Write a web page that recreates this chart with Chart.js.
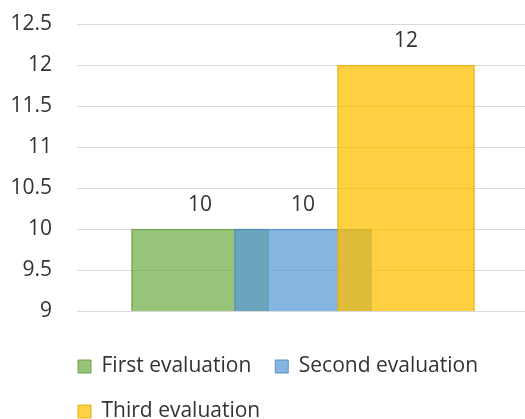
<!DOCTYPE html>
<html>
<head>
<meta charset="utf-8">
<script src="https://cdn.jsdelivr.net/npm/chart.js@4"></script>
<style>
  html, body { margin: 0; padding: 0; background: #fff; }
  #wrap { width: 525px; height: 419px; }
</style>
</head>
<body>
<div id="wrap"><canvas id="c" width="525" height="419"></canvas></div>
<script>
// Series shown as overlapping columns, one column per evaluation
const seriesNames = ['First evaluation', 'Second evaluation', 'Third evaluation'];
const seriesSlots = [1, 2, 3];            // column order along the horizontal axis
const seriesValues = [10, 10, 12];
const yTicks = [9, 9.5, 10, 10.5, 11, 11.5, 12, 12.5];

const fills   = ['rgba(112,173,71,0.72)', 'rgba(91,155,213,0.74)', 'rgba(255,192,0,0.74)'];
const borders = ['rgba(96,150,60,0.85)',  'rgba(70,130,190,0.85)', 'rgba(225,168,0,0.85)'];

const FONT = "'Open Sans', 'Noto Sans', sans-serif";
const TEXT = '#333333';
const FONT_SIZE = 21;

// value labels above each column
const valueLabels = {
  id: 'valueLabels',
  afterDatasetsDraw(chart) {
    const ctx = chart.ctx;
    ctx.save();
    ctx.font = FONT_SIZE + 'px ' + FONT;
    ctx.fillStyle = TEXT;
    ctx.textAlign = 'center';
    ctx.textBaseline = 'middle';
    chart.data.datasets.forEach((ds, i) => {
      const meta = chart.getDatasetMeta(i);
      meta.data.forEach((bar, j) => {
        const v = ds.data[j].y;
        ctx.fillText(String(v), bar.x, bar.y - 24);
      });
    });
    ctx.restore();
  }
};

// legend sits under the plot, starting near the left edge of the plot
const legendPlacement = {
  id: 'legendPlacement',
  afterLayout(chart) {
    const lg = chart.legend;
    if (!lg) return;
    lg.left += 54;
    lg.top += 13;
    lg.bottom += 13;
  }
};

const datasets = seriesNames.map((name, i) => ({
  label: name,
  data: [{ x: seriesSlots[i], y: seriesValues[i] }],
  backgroundColor: fills[i],
  borderColor: borders[i],
  borderWidth: 1,
  barThickness: 137,
  grouped: false,
  order: seriesNames.length - i
}));

new Chart(document.getElementById('c'), {
  type: 'bar',
  data: { datasets },
  options: {
    responsive: false,
    animation: false,
    devicePixelRatio: 1,
    layout: { padding: { top: 24, left: 0, right: 0, bottom: 0 } },
    scales: {
      x: {
        type: 'linear',
        offset: false,
        min: -0.194,
        max: 4.155,
        display: true,
        grid: { display: false },
        border: { display: false },
        ticks: { display: false },
        afterFit(s) { s.height = 8; }
      },
      y: {
        min: 9,
        max: 12.5,
        afterBuildTicks(s) { s.ticks = yTicks.map(v => ({ value: v })); },
        grid: { color: '#d9d9d9', lineWidth: 1, drawTicks: false },
        border: { display: false },
        ticks: {
          color: TEXT,
          font: { family: FONT, size: FONT_SIZE },
          padding: 25,
          callback: v => String(v)
        },
        afterFit(s) {
          s.width = 77;
          s.paddingTop = 0;
          s.paddingBottom = 0;
        }
      }
    },
    plugins: {
      tooltip: { enabled: false },
      legend: {
        position: 'bottom',
        align: 'start',
        labels: {
          boxWidth: 13,
          boxHeight: 13,
          padding: 24,
          color: TEXT,
          font: { family: FONT, size: FONT_SIZE },
          sort: (a, b) => a.datasetIndex - b.datasetIndex
        }
      }
    }
  },
  plugins: [valueLabels, legendPlacement]
});
</script>
</body>
</html>
